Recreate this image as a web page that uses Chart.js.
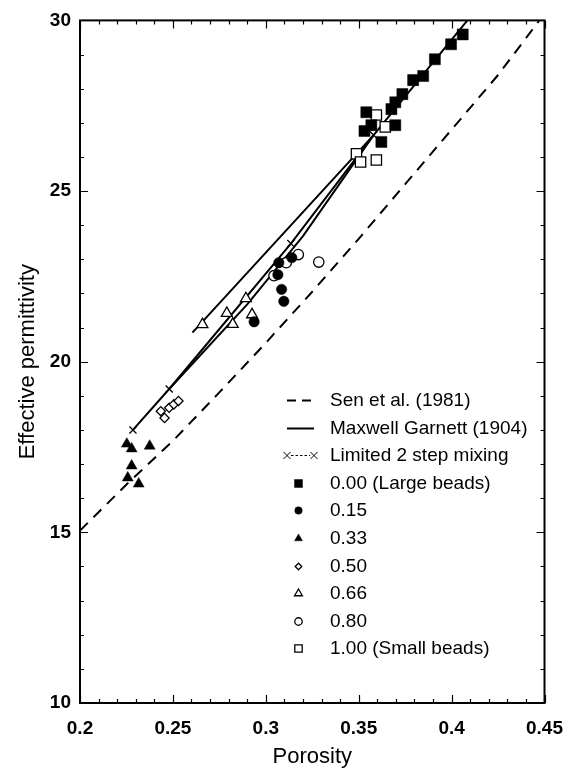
<!DOCTYPE html>
<html lang="en">
<head>
<meta charset="UTF-8">
<title>Effective permittivity vs porosity</title>
<script src="https://cdn.jsdelivr.net/npm/chart.js"></script>
<style>
  body { margin: 0; background: #fff; }
  canvas { display: block; }
</style>
</head>
<body>
<canvas id="chartCanvas" width="577" height="772"></canvas>
<script>
// model curves
const senPorosity = [0.2, 0.225, 0.25, 0.275, 0.3, 0.325, 0.35, 0.375, 0.4, 0.425, 0.45];
const senPermittivity = [15.05, 16.4, 17.68, 19.1, 20.55, 22.05, 23.6, 25.2, 26.8, 28.4, 30.2];

const mgPorosity = [0.2605, 0.358, 0.41];
const mgPermittivity = [20.85, 26.64, 30.1];

const mgLowPorosity = [0.248, 0.29, 0.32, 0.358];
const mgLowPermittivity = [19.2, 21.68, 23.68, 26.64];

const mixPorosity = [0.2285, 0.248, 0.3135, 0.358];
const mixPermittivity = [18.0, 19.2, 23.46, 26.64];

// measurements, by fraction of small beads
const f000Porosity = [0.3531, 0.3541, 0.3568, 0.3622, 0.3676, 0.3697, 0.3697, 0.3735, 0.3793, 0.3847, 0.391, 0.3997, 0.406];
const f000Permittivity = [26.76, 27.31, 26.93, 26.44, 27.4, 27.6, 26.93, 27.84, 28.25, 28.37, 28.86, 29.3, 29.59];

const f015Porosity = [0.2937, 0.3065, 0.307, 0.3085, 0.3097, 0.314];
const f015Permittivity = [21.17, 22.55, 22.9, 22.12, 21.77, 23.05];

const f033Porosity = [0.2252, 0.2278, 0.2375, 0.2278, 0.2257, 0.2316];
const f033Permittivity = [17.59, 17.45, 17.53, 16.95, 16.6, 16.42];

const f050Porosity = [0.2435, 0.2455, 0.248, 0.2505, 0.253];
const f050Permittivity = [18.55, 18.35, 18.65, 18.75, 18.85];

const f066Porosity = [0.2659, 0.279, 0.2822, 0.2893, 0.2926];
const f066Permittivity = [21.09, 21.42, 21.1, 21.85, 21.38];

const f080Porosity = [0.3044, 0.311, 0.3175, 0.3285];
const f080Permittivity = [22.52, 22.9, 23.14, 22.92];

const f100Porosity = [0.3488, 0.351, 0.3595, 0.3595, 0.3643];
const f100Permittivity = [26.09, 25.85, 25.91, 27.23, 26.88];

const xTicks = [0.2, 0.25, 0.3, 0.35, 0.4, 0.45];
const yTicks = [10, 15, 20, 25, 30];

function pts(xs, ys) {
    return xs.map((x, i) => ({ x: x, y: ys[i] }));
}

const FONT = "'Liberation Sans', Arial, Helvetica, sans-serif";
Chart.defaults.font.family = FONT;
Chart.defaults.color = '#000';

function curve(label, xs, ys, dash, legend) {
    return {
        label: label, data: pts(xs, ys), showLine: true, borderColor: '#000',
        borderWidth: 2, borderDash: dash, pointRadius: 0, tension: 0,
        order: 10, legend: legend
    };
}

function marks(label, xs, ys, style, radius, filled) {
    return {
        label: label, data: pts(xs, ys), showLine: false,
        pointStyle: style, pointRadius: radius, pointHoverRadius: radius,
        pointBackgroundColor: filled ? '#000' : '#fff', pointBorderColor: '#000',
        pointBorderWidth: filled ? 0.5 : 1.3, order: 0, legend: 'point'
    };
}

const mixSet = {
    label: 'Limited 2 step mixing', data: pts(mixPorosity, mixPermittivity), showLine: true,
    borderColor: '#000', borderWidth: 2, pointStyle: 'crossRot', pointRadius: 5,
    pointBorderColor: '#000', pointBorderWidth: 1.3, tension: 0, order: 5, legend: 'xline'
};

// draws the frame with inward ticks on every side
const frameTicks = {
    id: 'frameTicks',
    afterDraw(chart) {
        const { ctx, chartArea: a, scales: { x, y } } = chart;
        ctx.save();
        ctx.strokeStyle = '#000';
        ctx.lineWidth = 1.2;
        ctx.beginPath();
        for (let i = 0; i <= 25; i++) {
            const px = Math.round(x.getPixelForValue(0.2 + i * 0.01)) + 0.5;
            const len = i % 5 === 0 ? 8 : 4;
            ctx.moveTo(px, a.bottom); ctx.lineTo(px, a.bottom - len);
            ctx.moveTo(px, a.top); ctx.lineTo(px, a.top + len);
        }
        for (let i = 0; i <= 20; i++) {
            const py = Math.round(y.getPixelForValue(10 + i)) + 0.5;
            const len = i % 5 === 0 ? 8 : 4;
            ctx.moveTo(a.left, py); ctx.lineTo(a.left + len, py);
            ctx.moveTo(a.right, py); ctx.lineTo(a.right - len, py);
        }
        ctx.stroke();
        ctx.lineWidth = 2;
        ctx.strokeRect(a.left, a.top, a.right - a.left, a.bottom - a.top);
        ctx.restore();
    }
};

// legend sitting inside the plot, lower right
const insideLegend = {
    id: 'insideLegend',
    afterDraw(chart) {
        const ctx = chart.ctx;
        const x0 = 287, x1 = 314, textX = 330, y0 = 400, rowH = 27.6;
        ctx.save();
        ctx.font = '19px ' + FONT;
        ctx.textBaseline = 'middle';
        let row = 0;
        chart.data.datasets.forEach(ds => {
            if (!ds.legend) return;
            const yy = Math.round(y0 + row * rowH) + 0.5;
            ctx.strokeStyle = '#000';
            ctx.fillStyle = '#000';
            if (ds.legend === 'line' || ds.legend === 'dash') {
                ctx.lineWidth = 2;
                ctx.setLineDash(ds.legend === 'dash' ? [9, 6] : []);
                ctx.beginPath(); ctx.moveTo(x0, yy); ctx.lineTo(x1, yy); ctx.stroke();
                ctx.setLineDash([]);
            } else if (ds.legend === 'xline') {
                ctx.lineWidth = 1;
                ctx.setLineDash([2.5, 2]);
                ctx.beginPath(); ctx.moveTo(x0 + 4, yy); ctx.lineTo(x1 - 4, yy); ctx.stroke();
                ctx.setLineDash([]);
                const o = { pointStyle: 'crossRot', radius: 5, borderWidth: 1.1, rotation: 0 };
                Chart.helpers.drawPoint(ctx, o, x0, yy);
                Chart.helpers.drawPoint(ctx, o, x1, yy);
            } else {
                ctx.fillStyle = ds.pointBackgroundColor;
                ctx.lineWidth = ds.pointBorderWidth;
                Chart.helpers.drawPoint(ctx, {
                    pointStyle: ds.pointStyle, radius: ds.pointRadius * 0.72,
                    borderWidth: ds.pointBorderWidth, rotation: 0
                }, (x0 + x1) / 2 - 2, yy);
            }
            ctx.fillStyle = '#000';
            ctx.fillText(ds.label, textX, yy);
            row++;
        });
        ctx.restore();
    }
};

function legendRank(ds) {
    const order = ['Sen et al. (1981)', 'Maxwell Garnett (1904)', 'Limited 2 step mixing'];
    const i = order.indexOf(ds.label);
    return i >= 0 ? i : (ds.legend ? 3 : 20);
}

new Chart(document.getElementById('chartCanvas'), {
    type: 'scatter',
    data: {
        datasets: [
            marks('0.00 (Large beads)', f000Porosity, f000Permittivity, 'rect', 7.8, true),
            marks('0.15', f015Porosity, f015Permittivity, 'circle', 5.2, true),
            marks('0.33', f033Porosity, f033Permittivity, 'triangle', 6.3, true),
            marks('0.50', f050Porosity, f050Permittivity, 'rectRot', 4.6, false),
            marks('0.66', f066Porosity, f066Permittivity, 'triangle', 6.3, false),
            marks('0.80', f080Porosity, f080Permittivity, 'circle', 5.2, false),
            marks('1.00 (Small beads)', f100Porosity, f100Permittivity, 'rect', 7.3, false),
            curve('Sen et al. (1981)', senPorosity, senPermittivity, [11, 8], 'dash'),
            curve('Maxwell Garnett (1904)', mgPorosity, mgPermittivity, [], 'line'),
            curve('Maxwell Garnett, low branch', mgLowPorosity, mgLowPermittivity, [], null),
            mixSet
        ].sort((a, b) => legendRank(a) - legendRank(b))
    },
    options: {
        responsive: false,
        animation: false,
        layout: { padding: { top: 18, right: 30, left: 0, bottom: 0 } },
        plugins: { legend: { display: false }, tooltip: { enabled: false } },
        scales: {
            x: {
                type: 'linear', min: 0.2, max: 0.45,
                afterFit(s) { s.height = 69; },
                afterBuildTicks(s) { s.ticks = xTicks.map(v => ({ value: v })); },
                grid: { display: false, drawTicks: false },
                border: { display: false },
                ticks: {
                    padding: 14, font: { size: 19, weight: 'bold' },
                    callback: v => String(+v.toFixed(2))
                },
                title: { display: true, text: 'Porosity', font: { size: 22 }, padding: { top: 0, bottom: 2 } }
            },
            y: {
                type: 'linear', min: 10, max: 30,
                afterFit(s) { s.width = 80; },
                afterBuildTicks(s) { s.ticks = yTicks.map(v => ({ value: v })); },
                grid: { display: false, drawTicks: false },
                border: { display: false },
                ticks: { padding: 9, font: { size: 19, weight: 'bold' } },
                title: { display: true, text: 'Effective permittivity', font: { size: 22 }, padding: { top: 15, bottom: 0 } }
            }
        }
    },
    plugins: [frameTicks, insideLegend]
});
</script>
</body>
</html>
